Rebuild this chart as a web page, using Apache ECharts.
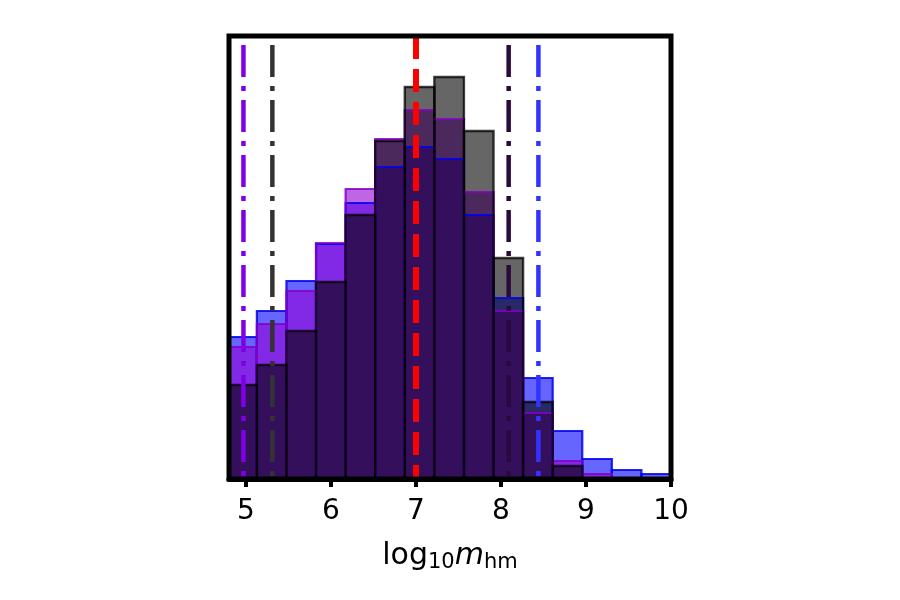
<!DOCTYPE html>
<html>
<head>
<meta charset="utf-8">
<script src="https://cdn.jsdelivr.net/npm/echarts@6/dist/echarts.min.js"></script>
<style>html,body{margin:0;padding:0;background:#fff}#c{width:900px;height:600px}</style>
</head>
<body>
<div id="c"></div>
<script>
// Histogram bin edges (log10 m_hm)
const binEdges = [4.78, 5.128, 5.476, 5.824, 6.172, 6.52, 6.868, 7.216, 7.564, 7.912, 8.26, 8.608, 8.956, 9.304, 9.652, 10.0];
// Bar heights (arbitrary density units)
const blueHeights   = [142, 168, 198, 235, 276, 312, 332, 320, 264, 181, 101, 48, 20, 9, 5];
const purpleHeights = [132, 155, 188, 236, 290, 340, 369, 360, 287, 168, 66, 18, 5, 0, 0];
const blackHeights  = [94, 114, 148, 197, 264, 338, 392, 402, 348, 221, 77, 13, 0, 0, 0];
// Vertical reference lines
const purpleLines = [4.97];
const blackLines = [5.31];
const darkLines = [8.09];
const blueLines = [8.44];
const redLine = [7.0];
const xTicks = [5, 6, 7, 8, 9, 10];
const yMax = 443;

function barData(h) { return h.map((v, i) => [binEdges[i], binEdges[i + 1], v]); }

function makeBars(heights, fill, stroke, lw, z) {
  return {
    type: 'custom',
    z: z,
    silent: true,
    encode: { x: [0, 1], y: 2 },
    data: barData(heights),
    renderItem: function (params, api) {
      const x0 = api.value(0), x1 = api.value(1), h = api.value(2);
      if (h <= 0) return null;
      const p0 = api.coord([x0, h]);
      const p1 = api.coord([x1, 0]);
      const cs = params.coordSys;
      const shape = echarts.graphic.clipRectByRect(
        { x: p0[0], y: p0[1], width: p1[0] - p0[0], height: p1[1] - p0[1] },
        { x: cs.x, y: cs.y, width: cs.width, height: cs.height });
      if (!shape) return null;
      return {
        type: 'rect', shape: shape,
        style: { fill: fill || 'none', stroke: stroke || 'none', lineWidth: lw || 0 }
      };
    }
  };
}

function vline(xs, color, width, dash, offset, z) {
  return xs.map(x => ({
    type: 'line', z: z, silent: true, symbol: 'none',
    data: [[x, yMax], [x, 0]],
    lineStyle: { color: color, width: width, type: dash, dashOffset: offset, cap: 'butt' },
    animation: false
  }));
}

const dashDot = [32, 9, 5, 9];

const chart = echarts.init(document.getElementById('c'), null, { renderer: 'canvas' });
chart.setOption({
  animation: false,
  backgroundColor: '#fff',
  grid: { left: 229, right: 229, top: 36, bottom: 121, show: true, borderColor: '#000', borderWidth: 5, backgroundColor: 'transparent', z: 10 },
  xAxis: {
    type: 'value', min: 4.8, max: 10,
    axisLine: { show: true, onZero: false, lineStyle: { color: '#000', width: 5 } },
    axisTick: { show: true, inside: false, length: 8, lineStyle: { color: '#000', width: 4 }, customValues: xTicks },
    axisLabel: { show: true, margin: 19, fontFamily: 'DejaVu Sans', fontSize: 28, color: '#000', customValues: xTicks },
    splitLine: { show: false },
    name: '{a|log}{s|10}{i|m}{s|hm}',
    nameLocation: 'middle',
    nameGap: 62,
    nameTextStyle: {
      rich: {
        a: { fontFamily: 'DejaVu Sans', fontSize: 30, color: '#000', verticalAlign: 'top', lineHeight: 32 },
        i: { fontFamily: 'DejaVu Sans', fontStyle: 'italic', fontSize: 30, color: '#000', verticalAlign: 'top', lineHeight: 32 },
        s: { fontFamily: 'DejaVu Sans', fontSize: 21, color: '#000', verticalAlign: 'top', padding: [11, 0, 0, 0], lineHeight: 24 }
      }
    }
  },
  yAxis: {
    type: 'value', min: 0, max: yMax,
    axisLine: { show: false }, axisTick: { show: false }, axisLabel: { show: false }, splitLine: { show: false }
  },
  series: [
    makeBars(blueHeights, 'rgba(0,0,255,0.6)', null, 0, 1),
    makeBars(purpleHeights, 'rgba(148,0,211,0.6)', null, 0, 2),
    makeBars(blackHeights, 'rgba(0,0,0,0.6)', null, 0, 3),
    makeBars(blueHeights, null, 'rgba(0,0,240,0.85)', 2.2, 4),
    makeBars(purpleHeights, null, 'rgba(130,0,200,0.85)', 2.2, 5),
    makeBars(blackHeights, null, 'rgba(0,0,0,0.75)', 2.4, 6)
  ]
  .concat(vline(purpleLines, '#7f00e6', 4.5, dashDot, 46, 7))
  .concat(vline(blackLines, '#333333', 4.5, dashDot, 46, 7))
  .concat(vline(darkLines, '#2a0a3c', 4.5, dashDot, 46, 7))
  .concat(vline(blueLines, '#3333ff', 4.5, dashDot, 46, 7))
  .concat(vline(redLine, '#ff0000', 6, [23, 10], 0, 8))
});
</script>
</body>
</html>
